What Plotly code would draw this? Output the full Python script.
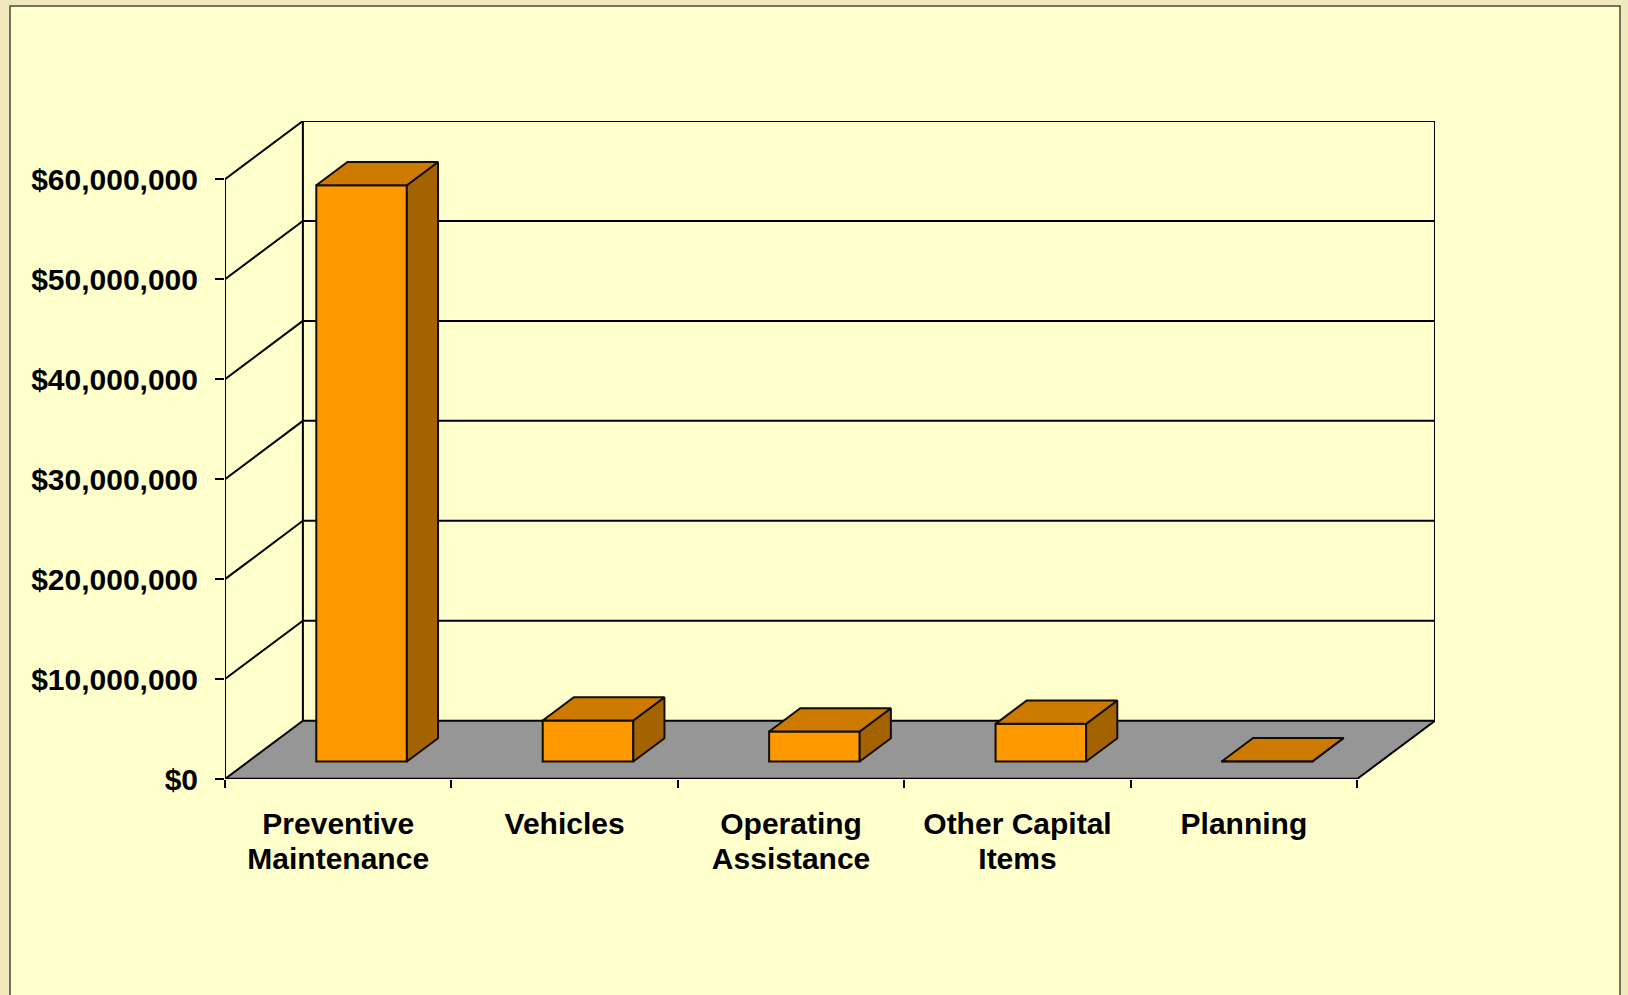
import plotly.graph_objects as go

# ---------------- data ----------------
categories = ["Preventive Maintenance", "Vehicles", "Operating Assistance",
              "Other Capital Items", "Planning"]
label_line1 = ["Preventive", "Vehicles", "Operating", "Other Capital", "Planning"]
label_line2 = ["Maintenance", "", "Assistance", "Items", ""]
values = [57_650_000, 4_100_000, 3_000_000, 3_770_000, 30_000]
y_tick_vals = [0, 10_000_000, 20_000_000, 30_000_000, 40_000_000, 50_000_000, 60_000_000]
y_tick_text = ["$0", "$10,000,000", "$20,000,000", "$30,000,000",
               "$40,000,000", "$50,000,000", "$60,000,000"]

# ---------------- 3D-look parameters ----------------
DX = 0.344          # depth offset in category units
DY = 5_830_000      # depth offset in value units
D_FRONT, D_BACK = 0.3, 0.7
BAR_W = 0.4
YMAX = y_tick_vals[-1]
n = len(categories)
XL, XR = -0.5, n - 0.5

FRONT = "#FF9900"
TOP = "#CC7A00"
SIDE = "#A36300"
FLOOR = "#969696"
EDGE = "#140c00"
BG = "#FFFFCC"

W, H = 1628, 995
ML, MR, MT, MB = 225, 193, 121, 216

fig = go.Figure()

# front faces as real bars
xs_front = [i + D_FRONT * DX for i in range(n)]
fig.add_trace(go.Bar(
    x=xs_front, y=values, base=[D_FRONT * DY] * n, width=BAR_W,
    marker=dict(color=FRONT, line=dict(color=EDGE, width=2)),
    hovertext=categories, hoverinfo="text+y", showlegend=False))

# top and side faces
def proj(c, v, d):
    return c + d * DX, v + d * DY

for i, v in enumerate(values):
    l, r = i - BAR_W / 2, i + BAR_W / 2
    top = [proj(l, v, D_FRONT), proj(r, v, D_FRONT), proj(r, v, D_BACK), proj(l, v, D_BACK), proj(l, v, D_FRONT)]
    side = [proj(r, 0, D_FRONT), proj(r, 0, D_BACK), proj(r, v, D_BACK), proj(r, v, D_FRONT), proj(r, 0, D_FRONT)]
    for pts, col in ((side, SIDE), (top, TOP)):
        fig.add_trace(go.Scatter(
            x=[p[0] for p in pts], y=[p[1] for p in pts], mode="lines",
            fill="toself", fillcolor=col, line=dict(color=EDGE, width=2),
            hoverinfo="skip", showlegend=False))

# invisible trace that carries the second label row axis
fig.add_trace(go.Scatter(x=list(range(n)), y=values, xaxis="x2", mode="markers",
                         marker=dict(opacity=0), hoverinfo="skip", showlegend=False))

shapes = []
# outer slide frame (paper coords)
pw = W - ML - MR
ph = H - MT - MB
def px_to_paper_x(px):
    return (px - ML) / pw
def py_to_paper_y(py):
    return (H - MB - py) / ph
shapes.append(dict(type="rect", xref="paper", yref="paper", layer="below",
                   x0=px_to_paper_x(10), x1=px_to_paper_x(1620),
                   y0=py_to_paper_y(1010), y1=py_to_paper_y(6),
                   fillcolor=BG, line=dict(color="#4a4a3c", width=1.5)))

# floor
shapes.append(dict(type="path", xref="x", yref="y", layer="below",
                   path=f"M {XL},0 L {XR},0 L {XR+DX},{DY} L {XL+DX},{DY} Z",
                   fillcolor=FLOOR, line=dict(width=0)))

def seg(x0, y0, x1, y1, w=2):
    shapes.append(dict(type="line", xref="x", yref="y", layer="below",
                       x0=x0, y0=y0, x1=x1, y1=y1,
                       line=dict(color="black", width=w)))

# gridlines on back wall and side wall
for v in y_tick_vals:
    seg(XL + DX, v + DY, XR + DX, v + DY)
    seg(XL, v, XL + DX, v + DY)
# verticals
seg(XL, 0, XL, YMAX)
seg(XL + DX, DY, XL + DX, YMAX + DY)
seg(XR + DX, DY, XR + DX, YMAX + DY)
# floor front + right edge
seg(XL, 0, XR, 0, 2.5)
seg(XR, 0, XR + DX, DY)

FS = 30
font = dict(family="Liberation Sans, Arial, sans-serif", size=FS, color="black", weight="bold")
xrange = [XL, XR + DX]

fig.update_layout(
    width=W, height=H,
    margin=dict(l=ML, r=MR, t=MT, b=MB, pad=0),
    paper_bgcolor="#F1E8BE",
    plot_bgcolor="rgba(0,0,0,0)",
    barmode="overlay",
    showlegend=False,
    shapes=shapes,
    xaxis=dict(range=xrange, tickmode="array",
               tickvals=list(range(n)), ticktext=label_line1,
               ticks="", showgrid=False, zeroline=False, showline=False,
               tickfont=font, ticklabelstandoff=24,
               minor=dict(tickmode="array", tickvals=[i - 0.5 for i in range(n + 1)],
                          ticks="outside", ticklen=8, tickwidth=1.5,
                          tickcolor="black", showgrid=False)),
    xaxis2=dict(range=xrange, overlaying="x", anchor="y", side="bottom",
                tickmode="array", tickvals=list(range(n)), ticktext=label_line2,
                ticks="", showgrid=False, zeroline=False, showline=False,
                tickfont=font, ticklabelstandoff=59),
    yaxis=dict(range=[0, YMAX + DY], tickmode="array",
               tickvals=y_tick_vals, ticktext=y_tick_text,
               ticks="outside", ticklen=9, tickwidth=1.5, tickcolor="black",
               showgrid=False, zeroline=False, showline=False,
               tickfont=font, ticklabelstandoff=11),
)

fig.write_html("out.html", config={"displayModeBar": False},
               post_script="document.body.style.margin='0';document.body.style.overflow='hidden';")
